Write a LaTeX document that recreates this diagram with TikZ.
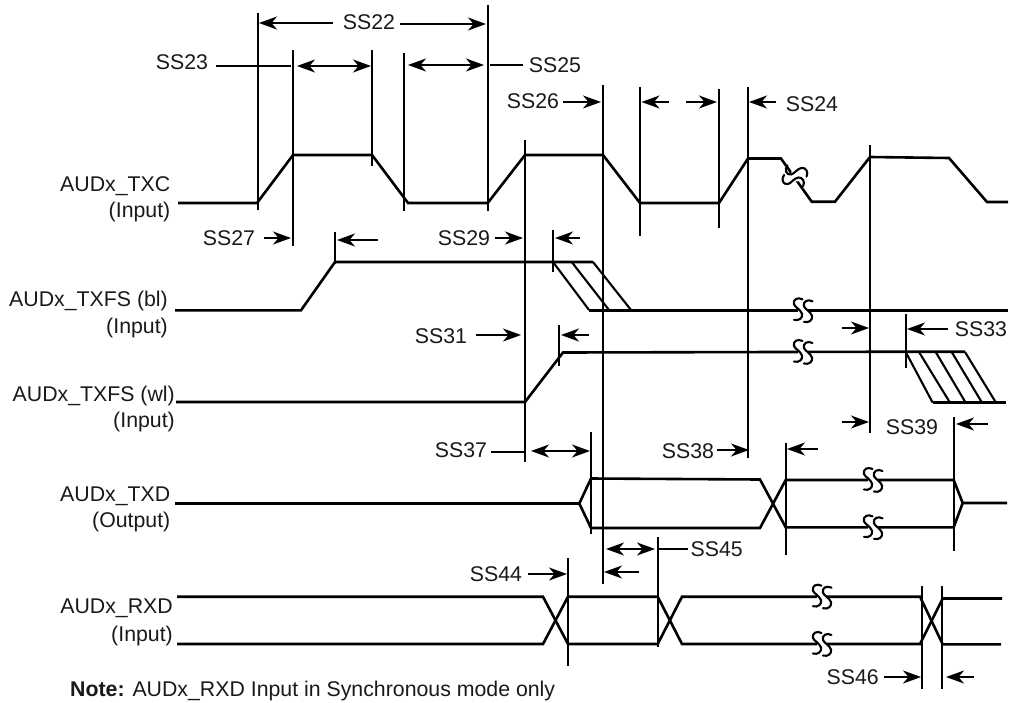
\documentclass[tikz,border=0pt]{standalone}
\usepackage{fontspec}
\setmainfont{Liberation Sans}
\usetikzlibrary{arrows.meta}
\tikzset{
  x=1pt,y=-1pt,
  sig/.style={line width=2.6pt,line join=miter,line cap=butt},
  hatch/.style={line width=2.1pt},
  ext/.style={line width=2.1pt},
  dim/.style={line width=1.6pt,-{Stealth[length=18pt,width=13pt,inset=5.5pt]}},
  dbl/.style={line width=1.6pt,{Stealth[length=18pt,width=13pt,inset=5.5pt]}-{Stealth[length=18pt,width=13pt,inset=5.5pt]}},
  lead/.style={line width=1.6pt},
  lab/.style={font=\fontsize{21.3}{25}\selectfont,inner sep=0pt,text=black!90},
  sigl/.style={lab,anchor=base east},
}
\newcommand{\squig}[3]{%
  \begin{scope}[shift={(#1,#2)},rotate=#3]
    \fill[white] (-5,-4) rectangle (5,4);
    \foreach \d/\e in {-5/-1,5/1}{
      \draw[line width=2.1pt,line cap=round,shift={(\d,\e)}]
        (4.5,-10) .. controls (0,-12.5) and (-5.5,-10) .. (-4,-5)
        .. controls (-3,-2) and (2.5,0) .. (4,4.5)
        .. controls (5,8.5) and (1,12) .. (-4,10.5);
    }
  \end{scope}}
\begin{document}
\begin{tikzpicture}
\useasboundingbox (0,0) rectangle (1010,702);
% extension lines
\draw[ext] (257.7,13)--(257.7,210);
\draw[ext] (292.7,50)--(292.7,246);
\draw[ext] (372,50)--(372,166);
\draw[ext] (403.7,53)--(403.7,211);
\draw[ext] (487.7,5)--(487.7,211);
\draw[ext] (525,140)--(525,462);
\draw[ext] (603,85)--(603,584);
\draw[ext] (640,87)--(640,236);
\draw[ext] (719,89)--(719,228);
\draw[ext] (747.7,87)--(747.7,458);
\draw[ext] (870,145)--(870,433);
\draw[ext] (335,232)--(335,264);
\draw[ext] (552.7,230)--(552.7,272);
\draw[ext] (559,325)--(559,366);
\draw[ext] (905.7,314)--(905.7,368);
\draw[ext] (953.7,417)--(953.7,551);
\draw[ext] (785.7,443)--(785.7,555);
\draw[ext] (591,432)--(591,534);
\draw[ext] (657.7,537)--(657.7,647);
\draw[ext] (568,558)--(568,666);
\draw[ext] (922,586)--(922,689);
\draw[ext] (942,586)--(942,689);
% AUDx_TXC
\draw[sig] (178,203)--(257,203)--(293,155)--(372,155)--(408,203)--(487.7,203)--(525,155)--(603,155)--(640,203)--(719,203)--(748,158.5)--(781,158.5)--(811.7,201.7)--(835,201.7)--(870,157)--(949,158)--(987,202)--(1008,202);
\squig{795}{176}{82}
% AUDx_TXFS (bl)
\draw[sig] (175,310.3)--(301,310.3)--(335,262)--(593,262);
\draw[sig] (589,310.3)--(1008,310.3);
\draw[hatch] (553,262)--(589,310) (571.7,262)--(609,310) (593,262)--(631,310);
\squig{803}{310.3}{0}
% AUDx_TXFS (wl)
\draw[sig] (176,402)--(525,402)--(563,352.5)--(905.7,351.7)--(965,351.7);
\draw[sig] (932.7,402.7)--(1006,402.7);
\draw[hatch] (905.7,352)--(932.7,402.7) (919,352)--(950,402.7) (935.7,352)--(965.7,402.7) (951.7,352)--(982,402.7) (965,352)--(996,402.7);
\squig{803}{352}{0}
% AUDx_TXD
\draw[sig] (175,503.5)--(579.3,503.5)--(591,478.5)--(760,479.5)--(785.7,527.3)--(953.7,527.3)--(962.7,503)--(1007,503);
\draw[sig] (579.3,503.5)--(591,528)--(760,528)--(785.7,480)--(953.7,480)--(962.7,503);
\squig{873}{480}{0}
\squig{873}{527.3}{0}
% AUDx_RXD
\draw[sig] (177,596.7)--(543,596.7)--(568,644)--(657.7,644)--(682,596.7)--(920,596.7)--(942.7,644.3)--(1001,644.3);
\draw[sig] (177,644)--(543,644)--(568,596.7)--(657.7,596.7)--(682,644)--(920,644)--(942.7,598.5)--(1002,598.5);
\squig{822}{596.7}{0}
\squig{822}{644}{0}
% signal labels
\node[sigl] (ltxc) at (170.5,191) {AUDx\_TXC};
\node[sigl] (ltxci) at (170.5,217.7) {(Input)};
\node[sigl] (lbl) at (168,306) {AUDx\_TXFS (bl)};
\node[sigl] (lbli) at (168,333.3) {(Input)};
\node[sigl] (lwl) at (175,401.7) {AUDx\_TXFS (wl)};
\node[sigl] (lwli) at (175,427) {(Input)};
\node[sigl] (ltxd) at (170.5,501) {AUDx\_TXD};
\node[sigl] (ltxdo) at (170.5,527.7) {(Output)};
\node[sigl] (lrxd) at (173,613.5) {AUDx\_RXD};
\node[sigl] (lrxdi) at (173,641.7) {(Input)};
% timing labels
\node[lab] (s22) at (369,22) {SS22};
\node[lab] (s23) at (182,62.5) {SS23};
\node[lab] (s25) at (555,65) {SS25};
\node[lab] (s26) at (533,101) {SS26};
\node[lab] (s24) at (812,104) {SS24};
\node[lab] (s27) at (229,238) {SS27};
\node[lab] (s29) at (464,238) {SS29};
\node[lab] (s31) at (441,336) {SS31};
\node[lab] (s33) at (981,329) {SS33};
\node[lab] (s39) at (912,427) {SS39};
\node[lab] (s37) at (461,450) {SS37};
\node[lab] (s38) at (688,451) {SS38};
\node[lab] (s45) at (716.7,549) {SS45};
\node[lab] (s44) at (496,574) {SS44};
\node[lab] (s46) at (852.7,677) {SS46};
\node[lab,anchor=base west] (note) at (70,696) {\textbf{Note:} AUDx\_RXD Input in Synchronous mode only};
% dimension arrows
\draw[dim] (333,23)--(259,23);
\draw[dim] (400,24)--(486,24);
\draw[lead] (216,66)--(291,66);
\draw[dbl] (297,66)--(371,66);
\draw[dbl] (408,65)--(484,65);
\draw[lead] (490,65)--(523,65);
\draw[dim] (563,102)--(601,102);
\draw[dim] (669,102)--(641.5,102);
\draw[dim] (686,102)--(717,102);
\draw[dim] (776,102)--(749,102);
\draw[dim] (264,238)--(291,238);
\draw[dim] (378,240)--(337,240);
\draw[dim] (495,238)--(523,238);
\draw[dim] (580,238)--(555,238);
\draw[dim] (476,335)--(521,335);
\draw[dim] (589,335)--(561,335);
\draw[dim] (948,329)--(907,329);
\draw[dim] (842,328)--(869,328);
\draw[dim] (842,422)--(869,422);
\draw[dim] (988,424)--(956,424);
\draw[lead] (491,452)--(525,452);
\draw[dbl] (531,451)--(590,451);
\draw[dim] (717,450)--(749,450);
\draw[dim] (818,449)--(787,449);
\draw[dbl] (606,549)--(655,549);
\draw[lead] (658,549)--(688,549);
\draw[dim] (639,572)--(604,572);
\draw[dim] (528,574)--(567,574);
\draw[dim] (884,677)--(921,677);
\draw[dim] (974,677)--(946,677);
\end{tikzpicture}
\end{document}
